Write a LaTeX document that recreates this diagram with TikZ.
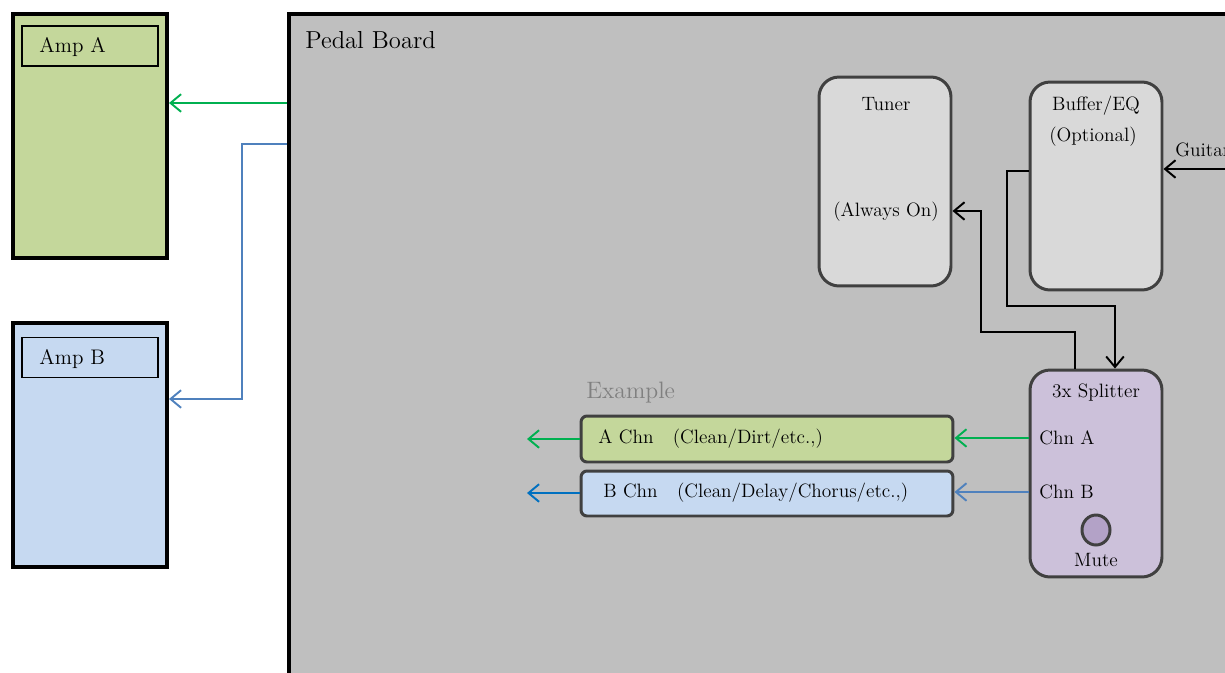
\documentclass[tikz,border=0pt]{standalone}
\usetikzlibrary{arrows.meta,shapes.geometric}
\definecolor{ampgreen}{HTML}{C4D79B}
\definecolor{ampblue}{HTML}{C6D9F1}
\definecolor{boardgray}{HTML}{BFBFBF}
\definecolor{boxgray}{HTML}{D9D9D9}
\definecolor{splitcol}{HTML}{CCC1DA}
\definecolor{mutecol}{HTML}{B3A2C7}
\definecolor{edgecol}{HTML}{404040}
\definecolor{lgreen}{HTML}{00B050}
\definecolor{lblue}{HTML}{4F81BD}
\definecolor{dblue}{HTML}{0070C0}
\definecolor{extext}{HTML}{808080}
\tikzset{
  ampbox/.style={draw=black, line width=2.3pt, minimum width=3.08cm, minimum height=4.88cm, inner sep=0pt},
  amplabel/.style={draw=black, line width=1.1pt, minimum width=2.72cm, minimum height=0.8cm, inner sep=0pt},
  pedal/.style={draw=edgecol, line width=1.7pt, fill=boxgray, rounded corners=0.4cm, minimum width=2.64cm, inner sep=0pt},
  chnbox/.style={draw=edgecol, line width=1.7pt, rounded corners=0.12cm, minimum width=7.44cm, inner sep=0pt},
  txt/.style={inner sep=0pt, font=\fontsize{11}{13}\selectfont},
  ampt/.style={inner sep=0pt, font=\fontsize{12}{14}\selectfont, anchor=west},
  conn/.style={line width=1.1pt, -{Straight Barb[length=6pt,width=10pt]}},
  plain/.style={line width=1.1pt},
}
\begin{document}
\begin{tikzpicture}[x=0.02cm,y=-0.02cm]
\useasboundingbox (0,0) rectangle (1225,673);
\clip (0,0) rectangle (1225,673);
% amps
\node[ampbox, fill=ampgreen] (ampA) at (90,136) {};
\node[amplabel] (ampAlab) at (90,46) {};
\node[ampt] (ampAtxt) at (39,47) {Amp A};
\node[ampbox, fill=ampblue] (ampB) at (90,445) {};
\node[amplabel] (ampBlab) at (90,357.5) {};
\node[ampt] (ampBtxt) at (39,359) {Amp B};
% board
\node[draw=black, line width=2.3pt, fill=boardgray, minimum width=19.02cm, minimum height=13.52cm, inner sep=0pt] (board) at (764.5,352) {};
\node[inner sep=0pt, anchor=west, font=\fontsize{14}{16}\selectfont] (boardtxt) at (305,40) {Pedal Board};
% tuner
\node[pedal, minimum height=4.18cm] (tuner) at (885,181.5) {};
\node[txt] (tunert) at (886,104) {Tuner};
\node[txt] (tunert2) at (886,212) {(Always On)};
% buffer
\node[pedal, minimum height=4.16cm] (buffer) at (1096,186) {};
\node[txt] (buft) at (1096,106) {Buffer/EQ};
\node[txt] (buft2) at (1093,137) {(Optional)};
% guitar
\node[txt, anchor=west] (guit) at (1175,150) {Guitar};
\coordinate (gin) at (1240,169);
% splitter
\node[pedal, fill=splitcol, minimum height=4.14cm] (split) at (1096,473.5) {};
\node[txt] (splitt) at (1096,393) {3x Splitter};
\node[txt, anchor=west] (chnA) at (1039,438) {Chn A};
\node[txt, anchor=west] (chnB) at (1039,492) {Chn B};
\node[draw=edgecol, fill=mutecol, line width=1.7pt, ellipse, minimum width=0.56cm, minimum height=0.6cm, inner sep=0pt] (mute) at (1096,530) {};
\node[txt] (mutet) at (1096,560) {Mute};
% example
\node[inner sep=0pt, anchor=west, text=extext, font=\fontsize{13.5}{15}\selectfont] (ex) at (586,393) {Example};
\node[chnbox, fill=ampgreen, minimum height=0.92cm] (achn) at (767,439) {};
\node[txt, anchor=west] (achnt) at (598,439) {A Chn\quad(Clean/Dirt/etc.,)};
\node[chnbox, fill=ampblue, minimum height=0.9cm] (bchn) at (767,493.5) {};
\node[txt, anchor=west] (bchnt) at (603,493) {B Chn\quad(Clean/Delay/Chorus/etc.,)};
\coordinate (aout) at (527,439);
\coordinate (bout) at (527,493);
% connectors
\draw[conn, lgreen] (board.west |- 0,103) -- (ampA.east |- 0,103);
\draw[conn, lblue] (board.west |- 0,144) -- (242,144) -- (242,399) -- (ampB.east |- 0,399);
\draw[conn, black] (gin) -- (buffer.east |- 0,169);
\draw[conn, black] (buffer.west |- 0,171) -- (1007,171) -- (1007,306) -- (1115,306) -- (split.north -| 1115,0);
\draw[conn, black] (split.north -| 1075,0) -- (1075,332) -- (981,332) -- (981,211) -- (tuner.east |- 0,211);
\draw[conn, lgreen] (split.west |- 0,438) -- (achn.east |- 0,438);
\draw[conn, lblue] (split.west |- 0,492) -- (bchn.east |- 0,492);
\draw[conn, lgreen] (achn.west) -- (aout);
\draw[conn, dblue] (bchn.west |- 0,493) -- (bout);
\end{tikzpicture}
\end{document}
